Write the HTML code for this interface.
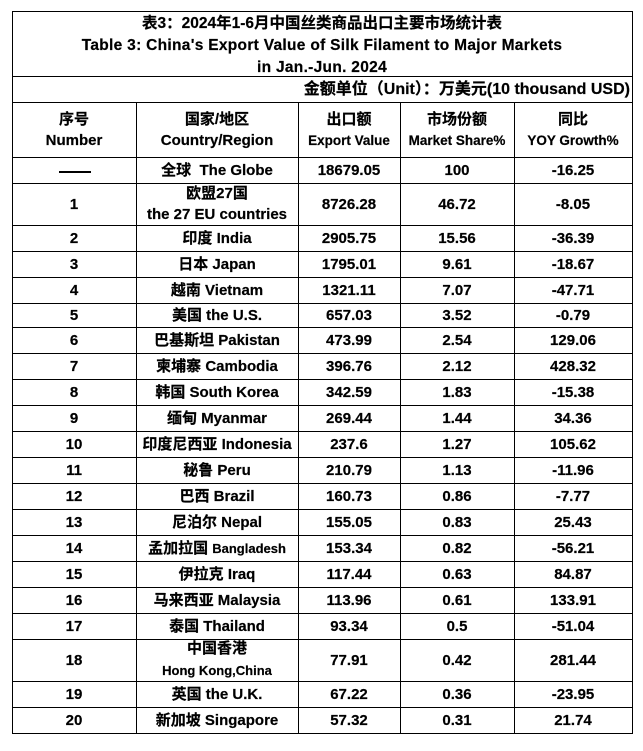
<!DOCTYPE html>
<html><head><meta charset="utf-8">
<style>
html,body{margin:0;padding:0;background:#fff;}
body{width:643px;height:751px;position:relative;overflow:hidden;font-family:"Liberation Sans","Noto Sans CJK SC",sans-serif;font-weight:bold;color:#000;-webkit-text-stroke:0.2px #000;}
.h{position:absolute;height:1px;background:#000;}
.v{position:absolute;width:1px;background:#000;}
.c{position:absolute;display:flex;flex-direction:column;align-items:center;justify-content:center;text-align:center;font-size:15px;line-height:21px;white-space:nowrap;}
.s{font-size:13.5px;}
.sm{font-size:13px;}
</style></head><body>
<!-- outer borders -->
<div class="h" style="left:12px;top:11px;width:621px"></div>
<div class="h" style="left:12px;top:733px;width:621px"></div>
<div class="v" style="left:12px;top:11px;height:723px"></div>
<div class="v" style="left:632px;top:11px;height:723px"></div>
<!-- horizontal lines -->
<div class="h" style="left:12px;top:76px;width:621px"></div>
<div class="h" style="left:12px;top:102px;width:621px"></div>
<div class="h" style="left:12px;top:157px;width:621px"></div>
<div class="h" style="left:12px;top:183px;width:621px"></div>
<div class="h" style="left:12px;top:225px;width:621px"></div>
<div class="h" style="left:12px;top:251px;width:621px"></div>
<div class="h" style="left:12px;top:277px;width:621px"></div>
<div class="h" style="left:12px;top:303px;width:621px"></div>
<div class="h" style="left:12px;top:327px;width:621px"></div>
<div class="h" style="left:12px;top:353px;width:621px"></div>
<div class="h" style="left:12px;top:379px;width:621px"></div>
<div class="h" style="left:12px;top:405px;width:621px"></div>
<div class="h" style="left:12px;top:431px;width:621px"></div>
<div class="h" style="left:12px;top:457px;width:621px"></div>
<div class="h" style="left:12px;top:483px;width:621px"></div>
<div class="h" style="left:12px;top:509px;width:621px"></div>
<div class="h" style="left:12px;top:535px;width:621px"></div>
<div class="h" style="left:12px;top:561px;width:621px"></div>
<div class="h" style="left:12px;top:587px;width:621px"></div>
<div class="h" style="left:12px;top:613px;width:621px"></div>
<div class="h" style="left:12px;top:639px;width:621px"></div>
<div class="h" style="left:12px;top:681px;width:621px"></div>
<div class="h" style="left:12px;top:707px;width:621px"></div>
<!-- vertical lines -->
<div class="v" style="left:136px;top:102px;height:631px"></div>
<div class="v" style="left:298px;top:102px;height:631px"></div>
<div class="v" style="left:400px;top:102px;height:631px"></div>
<div class="v" style="left:514px;top:102px;height:631px"></div>

<!-- title -->
<div class="c" style="left:12px;top:14px;width:620px;height:64px;line-height:22px;font-size:15.5px;">
<div>表3：2024年1-6月中国丝类商品出口主要市场统计表</div>
<div style="letter-spacing:0.3px;">Table 3: China's Export Value of Silk Filament to Major Markets</div>
<div style="letter-spacing:0.3px;">in Jan.-Jun. 2024</div>
</div>
<div class="c" style="left:12px;top:77px;width:618px;height:25px;align-items:flex-end;font-size:16px;">金额单位（Unit）：万美元(10 thousand USD)</div>

<!-- header -->
<div class="c" style="left:12px;top:103px;width:124px;height:54px;"><div>序号</div><div>Number</div></div>
<div class="c" style="left:136px;top:103px;width:162px;height:54px;"><div>国家/地区</div><div>Country/Region</div></div>
<div class="c" style="left:298px;top:103px;width:102px;height:54px;"><div>出口额</div><div class="s">Export Value</div></div>
<div class="c" style="left:400px;top:103px;width:114px;height:54px;"><div>市场份额</div><div class="s">Market Share%</div></div>
<div class="c" style="left:514px;top:103px;width:118px;height:54px;"><div>同比</div><div class="s">YOY Growth%</div></div>

<!-- globe row -->
<div style="position:absolute;left:59px;top:171px;width:32px;height:2px;background:#000;"></div>
<div class="c" style="left:136px;top:157px;width:162px;height:27px;">全球&nbsp; The Globe</div>
<div class="c" style="left:298px;top:157px;width:102px;height:27px;">18679.05</div>
<div class="c" style="left:400px;top:157px;width:114px;height:27px;">100</div>
<div class="c" style="left:514px;top:157px;width:118px;height:27px;">-16.25</div>

<!-- EU -->
<div class="c" style="left:12px;top:183px;width:124px;height:42px;">1</div>
<div class="c" style="left:136px;top:183px;width:162px;height:42px;"><div>欧盟27国</div><div>the 27 EU countries</div></div>
<div class="c" style="left:298px;top:183px;width:102px;height:42px;">8726.28</div>
<div class="c" style="left:400px;top:183px;width:114px;height:42px;">46.72</div>
<div class="c" style="left:514px;top:183px;width:118px;height:42px;">-8.05</div>

<!-- rows -->
<div class="c" style="left:12px;top:225px;width:124px;height:26px;">2</div>
<div class="c" style="left:136px;top:225px;width:162px;height:26px;">印度 India</div>
<div class="c" style="left:298px;top:225px;width:102px;height:26px;">2905.75</div>
<div class="c" style="left:400px;top:225px;width:114px;height:26px;">15.56</div>
<div class="c" style="left:514px;top:225px;width:118px;height:26px;">-36.39</div>

<div class="c" style="left:12px;top:251px;width:124px;height:26px;">3</div>
<div class="c" style="left:136px;top:251px;width:162px;height:26px;">日本 Japan</div>
<div class="c" style="left:298px;top:251px;width:102px;height:26px;">1795.01</div>
<div class="c" style="left:400px;top:251px;width:114px;height:26px;">9.61</div>
<div class="c" style="left:514px;top:251px;width:118px;height:26px;">-18.67</div>

<div class="c" style="left:12px;top:277px;width:124px;height:26px;">4</div>
<div class="c" style="left:136px;top:277px;width:162px;height:26px;">越南 Vietnam</div>
<div class="c" style="left:298px;top:277px;width:102px;height:26px;">1321.11</div>
<div class="c" style="left:400px;top:277px;width:114px;height:26px;">7.07</div>
<div class="c" style="left:514px;top:277px;width:118px;height:26px;">-47.71</div>

<div class="c" style="left:12px;top:303px;width:124px;height:24px;">5</div>
<div class="c" style="left:136px;top:303px;width:162px;height:24px;">美国 the U.S.</div>
<div class="c" style="left:298px;top:303px;width:102px;height:24px;">657.03</div>
<div class="c" style="left:400px;top:303px;width:114px;height:24px;">3.52</div>
<div class="c" style="left:514px;top:303px;width:118px;height:24px;">-0.79</div>

<div class="c" style="left:12px;top:327px;width:124px;height:26px;">6</div>
<div class="c" style="left:136px;top:327px;width:162px;height:26px;">巴基斯坦 Pakistan</div>
<div class="c" style="left:298px;top:327px;width:102px;height:26px;">473.99</div>
<div class="c" style="left:400px;top:327px;width:114px;height:26px;">2.54</div>
<div class="c" style="left:514px;top:327px;width:118px;height:26px;">129.06</div>

<div class="c" style="left:12px;top:353px;width:124px;height:26px;">7</div>
<div class="c" style="left:136px;top:353px;width:162px;height:26px;">柬埔寨 Cambodia</div>
<div class="c" style="left:298px;top:353px;width:102px;height:26px;">396.76</div>
<div class="c" style="left:400px;top:353px;width:114px;height:26px;">2.12</div>
<div class="c" style="left:514px;top:353px;width:118px;height:26px;">428.32</div>

<div class="c" style="left:12px;top:379px;width:124px;height:26px;">8</div>
<div class="c" style="left:136px;top:379px;width:162px;height:26px;">韩国 South Korea</div>
<div class="c" style="left:298px;top:379px;width:102px;height:26px;">342.59</div>
<div class="c" style="left:400px;top:379px;width:114px;height:26px;">1.83</div>
<div class="c" style="left:514px;top:379px;width:118px;height:26px;">-15.38</div>

<div class="c" style="left:12px;top:405px;width:124px;height:26px;">9</div>
<div class="c" style="left:136px;top:405px;width:162px;height:26px;">缅甸 Myanmar</div>
<div class="c" style="left:298px;top:405px;width:102px;height:26px;">269.44</div>
<div class="c" style="left:400px;top:405px;width:114px;height:26px;">1.44</div>
<div class="c" style="left:514px;top:405px;width:118px;height:26px;">34.36</div>

<div class="c" style="left:12px;top:431px;width:124px;height:26px;">10</div>
<div class="c" style="left:136px;top:431px;width:162px;height:26px;">印度尼西亚 Indonesia</div>
<div class="c" style="left:298px;top:431px;width:102px;height:26px;">237.6</div>
<div class="c" style="left:400px;top:431px;width:114px;height:26px;">1.27</div>
<div class="c" style="left:514px;top:431px;width:118px;height:26px;">105.62</div>

<div class="c" style="left:12px;top:457px;width:124px;height:26px;">11</div>
<div class="c" style="left:136px;top:457px;width:162px;height:26px;">秘鲁 Peru</div>
<div class="c" style="left:298px;top:457px;width:102px;height:26px;">210.79</div>
<div class="c" style="left:400px;top:457px;width:114px;height:26px;">1.13</div>
<div class="c" style="left:514px;top:457px;width:118px;height:26px;">-11.96</div>

<div class="c" style="left:12px;top:483px;width:124px;height:26px;">12</div>
<div class="c" style="left:136px;top:483px;width:162px;height:26px;">巴西 Brazil</div>
<div class="c" style="left:298px;top:483px;width:102px;height:26px;">160.73</div>
<div class="c" style="left:400px;top:483px;width:114px;height:26px;">0.86</div>
<div class="c" style="left:514px;top:483px;width:118px;height:26px;">-7.77</div>

<div class="c" style="left:12px;top:509px;width:124px;height:26px;">13</div>
<div class="c" style="left:136px;top:509px;width:162px;height:26px;">尼泊尔 Nepal</div>
<div class="c" style="left:298px;top:509px;width:102px;height:26px;">155.05</div>
<div class="c" style="left:400px;top:509px;width:114px;height:26px;">0.83</div>
<div class="c" style="left:514px;top:509px;width:118px;height:26px;">25.43</div>

<div class="c" style="left:12px;top:535px;width:124px;height:26px;">14</div>
<div class="c" style="left:136px;top:535px;width:162px;height:26px;"><div>孟加拉国 <span class="sm">Bangladesh</span></div></div>
<div class="c" style="left:298px;top:535px;width:102px;height:26px;">153.34</div>
<div class="c" style="left:400px;top:535px;width:114px;height:26px;">0.82</div>
<div class="c" style="left:514px;top:535px;width:118px;height:26px;">-56.21</div>

<div class="c" style="left:12px;top:561px;width:124px;height:26px;">15</div>
<div class="c" style="left:136px;top:561px;width:162px;height:26px;">伊拉克 Iraq</div>
<div class="c" style="left:298px;top:561px;width:102px;height:26px;">117.44</div>
<div class="c" style="left:400px;top:561px;width:114px;height:26px;">0.63</div>
<div class="c" style="left:514px;top:561px;width:118px;height:26px;">84.87</div>

<div class="c" style="left:12px;top:587px;width:124px;height:26px;">16</div>
<div class="c" style="left:136px;top:587px;width:162px;height:26px;">马来西亚 Malaysia</div>
<div class="c" style="left:298px;top:587px;width:102px;height:26px;">113.96</div>
<div class="c" style="left:400px;top:587px;width:114px;height:26px;">0.61</div>
<div class="c" style="left:514px;top:587px;width:118px;height:26px;">133.91</div>

<div class="c" style="left:12px;top:613px;width:124px;height:26px;">17</div>
<div class="c" style="left:136px;top:613px;width:162px;height:26px;">泰国 Thailand</div>
<div class="c" style="left:298px;top:613px;width:102px;height:26px;">93.34</div>
<div class="c" style="left:400px;top:613px;width:114px;height:26px;">0.5</div>
<div class="c" style="left:514px;top:613px;width:118px;height:26px;">-51.04</div>

<div class="c" style="left:12px;top:639px;width:124px;height:42px;">18</div>
<div class="c" style="left:136px;top:639px;width:162px;height:42px;line-height:22px;"><div>中国香港</div><div class="sm">Hong Kong,China</div></div>
<div class="c" style="left:298px;top:639px;width:102px;height:42px;">77.91</div>
<div class="c" style="left:400px;top:639px;width:114px;height:42px;">0.42</div>
<div class="c" style="left:514px;top:639px;width:118px;height:42px;">281.44</div>

<div class="c" style="left:12px;top:681px;width:124px;height:26px;">19</div>
<div class="c" style="left:136px;top:681px;width:162px;height:26px;">英国 the U.K.</div>
<div class="c" style="left:298px;top:681px;width:102px;height:26px;">67.22</div>
<div class="c" style="left:400px;top:681px;width:114px;height:26px;">0.36</div>
<div class="c" style="left:514px;top:681px;width:118px;height:26px;">-23.95</div>

<div class="c" style="left:12px;top:707px;width:124px;height:26px;">20</div>
<div class="c" style="left:136px;top:707px;width:162px;height:26px;">新加坡 Singapore</div>
<div class="c" style="left:298px;top:707px;width:102px;height:26px;">57.32</div>
<div class="c" style="left:400px;top:707px;width:114px;height:26px;">0.31</div>
<div class="c" style="left:514px;top:707px;width:118px;height:26px;">21.74</div>
</body></html>
